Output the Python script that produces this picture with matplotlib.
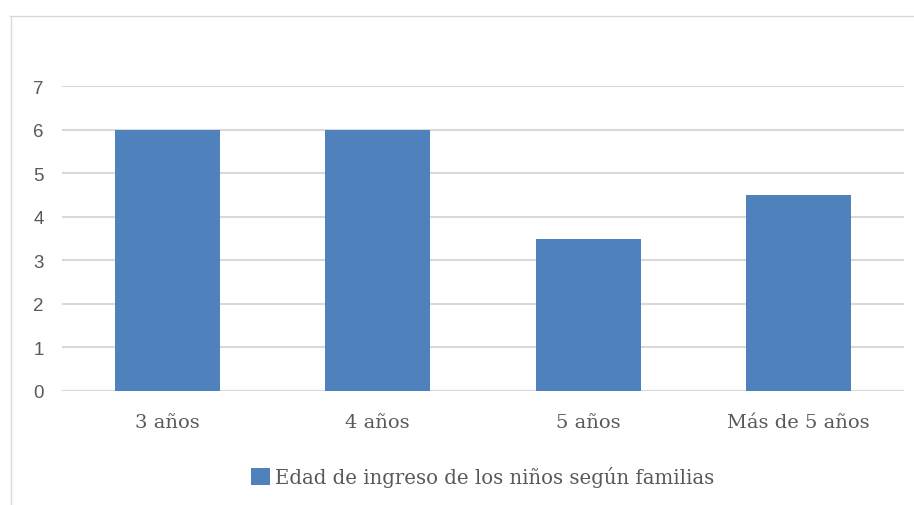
import matplotlib.pyplot as plt
from matplotlib.patches import Patch
import matplotlib.lines as mlines

# data
categories = ['3 años', '4 años', '5 años', 'Más de 5 años']
values = [6, 6, 3.5, 4.5]
series_name = 'Edad de ingreso de los niños según familias'
yticks = [0, 1, 2, 3, 4, 5, 6, 7]

bar_color = '#4f81bd'
grid_color = '#d9d9d9'
text_color = '#595959'
serif = 'DejaVu Serif'

fig = plt.figure(figsize=(9.14, 5.06), dpi=100)
ax = fig.add_axes([0.0678, 0.2253, 0.9212, 0.6027])

x = list(range(len(categories)))
ax.bar(x, values, width=0.5, color=bar_color, zorder=3)

ax.set_xlim(-0.5, len(categories) - 0.5)
ax.set_ylim(0, 7)
ax.set_yticks(yticks)
ax.set_xticks(x)
ax.set_xticklabels(categories, family=serif, fontsize=14, color=text_color)
for lab in ax.get_yticklabels():
    lab.set_family('Liberation Sans')
    lab.set_fontsize(13.5)
    lab.set_color(text_color)
ax.tick_params(axis='both', length=0)
ax.tick_params(axis='y', pad=13)
ax.tick_params(axis='x', pad=16)
ax.yaxis.grid(True, color=grid_color, linewidth=1.5, zorder=0)
for s in ax.spines.values():
    s.set_visible(False)
ax.axhline(0, color=grid_color, linewidth=1.5, zorder=2)

# legend below the plot
handle = Patch(facecolor=bar_color, edgecolor='none')
leg = fig.legend([handle], [series_name], loc='center', bbox_to_anchor=(0.5284, 0.0564),
                 frameon=False, handlelength=0.95, handleheight=0.95, handletextpad=0.25,
                 prop={'family': serif, 'size': 14.2})
for t in leg.get_texts():
    t.set_color(text_color)

# thin outer border (top and left visible)
fig.add_artist(mlines.Line2D([10 / 914, 1], [1 - 16.5 / 506] * 2, transform=fig.transFigure,
                             color='#d9d9d9', linewidth=1))
fig.add_artist(mlines.Line2D([10.5 / 914] * 2, [0, 1 - 16.5 / 506], transform=fig.transFigure,
                             color='#d9d9d9', linewidth=1))

fig.savefig('out.png', dpi=100, facecolor='white')
